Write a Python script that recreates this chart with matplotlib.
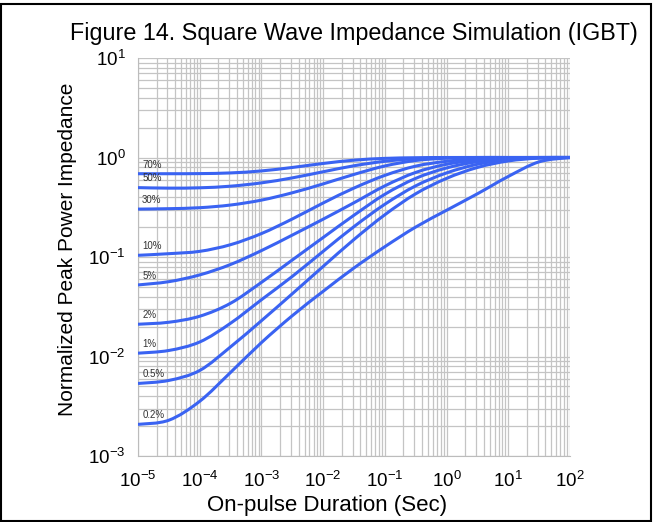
import matplotlib
matplotlib.use("Agg")
import numpy as np
import matplotlib.pyplot as plt
from matplotlib.patches import Rectangle, PathPatch
from matplotlib.path import Path
from matplotlib.ticker import LogLocator, FixedLocator, NullFormatter

plt.rcParams['font.family'] = ['Liberation Sans', 'DejaVu Sans']
plt.rcParams['mathtext.fontset'] = 'custom'
plt.rcParams['mathtext.rm'] = 'Liberation Sans'
plt.rcParams['mathtext.it'] = 'Liberation Sans'

# On-pulse duration (s), half-decade steps
duration = [1e-5, 3.16e-5, 1e-4, 3.16e-4, 1e-3, 3.16e-3, 1e-2, 3.16e-2,
            1e-1, 3.16e-1, 1, 3.16, 10, 31.6, 100]

# Normalized peak power impedance, one list per duty cycle
z_70 = [0.687, 0.687, 0.689, 0.700, 0.733, 0.794, 0.871, 0.940, 0.980, 0.995, 1.0, 1.0, 1.0, 1.0, 1.0]
z_50 = [0.498, 0.492, 0.496, 0.515, 0.556, 0.624, 0.719, 0.826, 0.916, 0.973, 0.995, 1.0, 1.0, 1.0, 1.0]
z_30 = [0.303, 0.306, 0.313, 0.333, 0.373, 0.442, 0.543, 0.676, 0.822, 0.933, 0.984, 1.0, 1.0, 1.0, 1.0]
z_10 = [0.104, 0.108, 0.114, 0.133, 0.172, 0.241, 0.349, 0.493, 0.661, 0.819, 0.916, 0.973, 0.995, 1.0, 1.0]
z_5 = [0.0524, 0.0565, 0.0661, 0.0841, 0.116, 0.166, 0.240, 0.351, 0.519, 0.708, 0.855, 0.942, 0.984, 1.0, 1.0]
z_2 = [0.0211, 0.0221, 0.0254, 0.0343, 0.0556, 0.0933, 0.157, 0.263, 0.427, 0.617, 0.785, 0.908, 0.977, 0.998, 1.0]
z_1 = [0.0108, 0.0115, 0.0140, 0.0216, 0.0372, 0.0638, 0.114, 0.202, 0.339, 0.519, 0.700, 0.855, 0.951, 0.991, 1.0]
z_05 = [0.00536, 0.00575, 0.00724, 0.0125, 0.0229, 0.0427, 0.0804, 0.150, 0.266, 0.432, 0.617, 0.794, 0.923, 0.986, 1.0]
z_02 = [0.00208, 0.00229, 0.00355, 0.00692, 0.0138, 0.0257, 0.0452, 0.0776, 0.127, 0.200, 0.295, 0.432, 0.645, 0.905, 1.0]

curves = [("70%", z_70), ("50%", z_50), ("30%", z_30), ("10%", z_10), ("5%", z_5),
          ("2%", z_2), ("1%", z_1), ("0.5%", z_05), ("0.2%", z_02)]

x_ticks = [1e-5, 1e-4, 1e-3, 1e-2, 1e-1, 1, 10, 100]
x_labels = ["$10^{-5}$", "$10^{-4}$", "$10^{-3}$", "$10^{-2}$",
            "$10^{-1}$", "$10^{0}$", "$10^{1}$", "$10^{2}$"]
y_ticks = [1e-3, 1e-2, 1e-1, 1, 10]
y_labels = ["$10^{-3}$", "$10^{-2}$", "$10^{-1}$", "$10^{0}$", "$10^{1}$"]


def smooth_path(xs, ys):
    # Excel-style smoothed line: Bezier segments through the points (log-log space)
    lx, ly = np.log10(xs), np.log10(ys)
    n = len(lx)
    verts = [(xs[0], ys[0])]
    codes = [Path.MOVETO]
    for i in range(n - 1):
        p0 = max(i - 1, 0)
        p3 = min(i + 2, n - 1)
        c1x = lx[i] + (lx[i + 1] - lx[p0]) / 6
        c1y = ly[i] + (ly[i + 1] - ly[p0]) / 6
        c2x = lx[i + 1] - (lx[p3] - lx[i]) / 6
        c2y = ly[i + 1] - (ly[p3] - ly[i]) / 6
        verts += [(10 ** c1x, 10 ** c1y), (10 ** c2x, 10 ** c2y), (xs[i + 1], ys[i + 1])]
        codes += [Path.CURVE4] * 3
    return Path(verts, codes)


fig = plt.figure(figsize=(6.54, 5.22), dpi=100)
ax = fig.add_axes([0.211, 0.1264, 0.6606, 0.7625])

for name, z in curves:
    ax.add_patch(PathPatch(smooth_path(duration, z), fill=False, edgecolor='#3a63f2',
                           lw=2.2, zorder=3))
    ax.annotate(name, (duration[0], z[0]), xytext=(3, 3), textcoords='offset points',
                fontsize=7, color='#333333', ha='left', va='bottom', zorder=4)

ax.set_xscale('log')
ax.set_yscale('log')
ax.set_xlim(1e-5, 100)
ax.set_ylim(1e-3, 10)

ax.xaxis.set_major_locator(FixedLocator(x_ticks))
ax.set_xticklabels(x_labels)
ax.yaxis.set_major_locator(FixedLocator(y_ticks))
ax.set_yticklabels(y_labels)
ax.xaxis.set_minor_locator(LogLocator(base=10, subs=range(2, 10), numticks=20))
ax.yaxis.set_minor_locator(LogLocator(base=10, subs=range(2, 10), numticks=20))
ax.xaxis.set_minor_formatter(NullFormatter())
ax.yaxis.set_minor_formatter(NullFormatter())

ax.grid(which='both', color='#c4c4c4', lw=0.9)
ax.tick_params(which='both', length=0, labelsize=13.5)
ax.tick_params(axis='x', pad=11)
ax.tick_params(axis='y', pad=9)
for s in ax.spines.values():
    s.set_color('#bcbcbc')
ax.spines['top'].set_visible(False)
ax.spines['right'].set_visible(False)

fig.text(327 / 654, 1 - 505 / 522, "On-pulse Duration (Sec)", fontsize=16,
         ha='center', va='center')
fig.text(68 / 654, 1 - 249 / 522, "Normalized Peak Power Impedance", fontsize=15,
         rotation=90, ha='center', va='center')
fig.text(0.541, 0.936, "Figure 14. Square Wave Impedance Simulation (IGBT)",
         fontsize=16.8, ha='center', va='center')

fig.patches.append(Rectangle((0.002, 0.002), 0.994, 0.99, transform=fig.transFigure,
                             fill=False, edgecolor='black', lw=1.5))

fig.savefig('out.png', dpi=100)
